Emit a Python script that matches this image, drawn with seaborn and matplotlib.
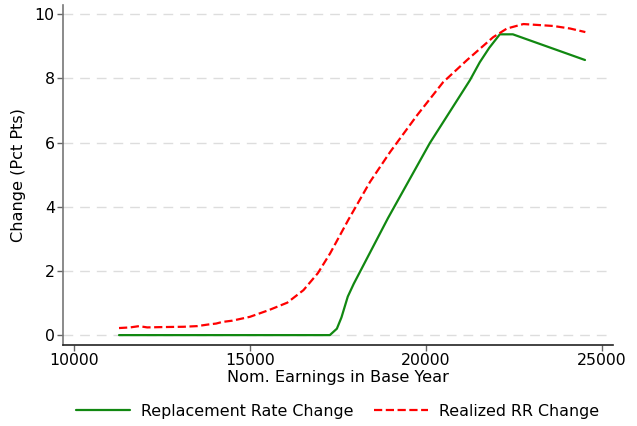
import matplotlib
matplotlib.use("Agg")
import matplotlib.pyplot as plt
import seaborn as sns

earn_green = [11280, 12000, 13000, 14000, 15000, 16000, 17000, 17270, 17470, 17600,
              17780, 17950, 18920, 20110, 21250, 21530, 21800, 22100, 22470, 24520]
rr_change = [0, 0, 0, 0, 0, 0, 0, 0, 0.2, 0.55,
             1.2, 1.6, 3.64, 5.98, 7.94, 8.5, 8.95, 9.37, 9.37, 8.57]

earn_red = [11280, 11600, 11850, 12080, 12500, 13120, 13500, 13810, 14040, 14215, 14500,
            15000, 15540, 16060, 16520, 16930, 17280, 17800, 18410, 18980, 19750,
            20490, 21170, 21910, 22300, 22770, 23200, 23620, 24100, 24530]
realized_change = [0.22, 0.24, 0.28, 0.24, 0.25, 0.26, 0.28, 0.33, 0.36, 0.41, 0.45,
                   0.57, 0.78, 1.01, 1.40, 1.93, 2.55, 3.60, 4.77, 5.70, 6.85,
                   7.88, 8.57, 9.28, 9.55, 9.69, 9.66, 9.63, 9.55, 9.44]

sns.set_theme(style="white")
plt.rcParams['font.family'] = ['DejaVu Sans']
plt.rcParams['text.color'] = 'black'
plt.rcParams['axes.labelcolor'] = 'black'
plt.rcParams['xtick.color'] = 'black'
plt.rcParams['ytick.color'] = 'black'

fig = plt.figure(figsize=(6.37, 4.26), dpi=100)
ax = fig.add_axes([0.099, 0.19, 0.863, 0.798])

for y in [0, 2, 4, 6, 8, 10]:
    ax.axhline(y, color="#dddddd", lw=1.0, ls=(0, (7, 5)), zorder=0)

sns.lineplot(x=earn_green, y=rr_change, ax=ax, color="#118811", lw=1.6,
             label="Replacement Rate Change", estimator=None, sort=False)
sns.lineplot(x=earn_red, y=realized_change, ax=ax, color="#ff0000", lw=1.6,
             linestyle="--", label="Realized RR Change", estimator=None, sort=False)

ax.set_xlim(9690, 25310)
ax.set_ylim(-0.31, 10.28)
ax.set_xticks([10000, 15000, 20000, 25000])
ax.set_yticks([0, 2, 4, 6, 8, 10])
ax.set_xlabel("Nom. Earnings in Base Year", fontsize=11.6, labelpad=1)
ax.set_ylabel("Change (Pct Pts)", fontsize=11.6, labelpad=6)
ax.tick_params(axis="both", labelsize=11.3, length=4, width=1, color="#666666",
               labelcolor="black", direction="out", bottom=True, left=True, pad=2)
for s in ["top", "right"]:
    ax.spines[s].set_visible(False)
ax.spines["left"].set_color("#777777")
ax.spines["left"].set_linewidth(1.2)
ax.spines["bottom"].set_color("#222222")
ax.spines["bottom"].set_linewidth(1.2)

leg = ax.legend(loc="upper center", bbox_to_anchor=(0.5, -0.13), ncol=2, frameon=False,
                fontsize=11.4, handlelength=3.4, columnspacing=1.3, handletextpad=0.7)
for t in leg.get_texts():
    t.set_color("black")

fig.savefig("out.png", dpi=100)
